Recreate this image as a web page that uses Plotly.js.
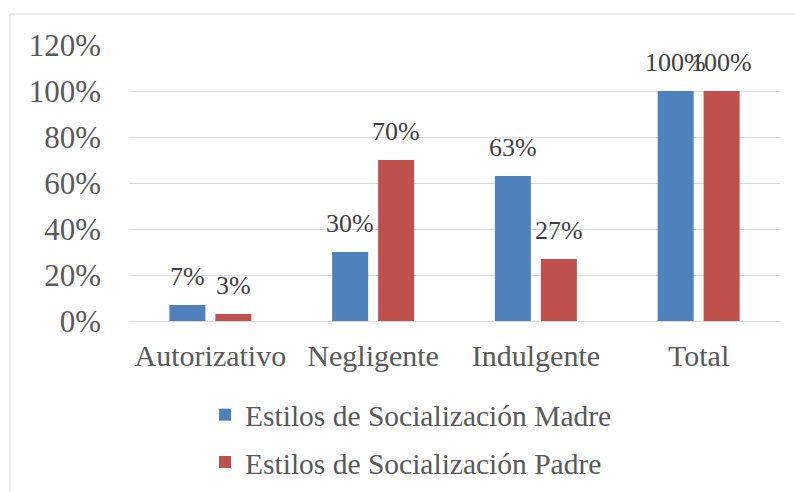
<!DOCTYPE html>
<html>
<head>
<meta charset="utf-8">
<script src="https://cdn.plot.ly/plotly-3.0.1.min.js"></script>
<style>html,body{margin:0;padding:0;background:#fff;}#chart{width:795px;height:492px;}</style>
</head>
<body>
<div id="chart"></div>
<script>
const categories = ["Autorizativo", "Negligente", "Indulgente", "Total"];
const madre = [0.07, 0.30, 0.63, 1.00];
const padre = [0.03, 0.70, 0.27, 1.00];
const seriesNames = ["Estilos de Socialización Madre", "Estilos de Socialización Padre"];
const yTickVals = [0, 0.2, 0.4, 0.6, 0.8, 1.0, 1.2];

const fontFam = 'Liberation Serif, Times New Roman, serif';
const colors = ["#4F81BD", "#C0504D"];

const traces = [madre, padre].map((vals, i) => ({
  type: 'bar',
  name: seriesNames[i],
  x: categories,
  y: vals,
  marker: {color: colors[i]},
  legendgroup: 'g' + i,
  hoverinfo: 'none'
}));

const annotations = [];
[madre, padre].forEach((vals, i) => {
  vals.forEach((v, j) => {
    annotations.push({
      x: categories[j], y: v, xref: 'x', yref: 'y',
      text: Math.round(v * 100) + '%',
      showarrow: false, yanchor: 'bottom', xanchor: 'center',
      xshift: i === 0 ? -23 : 23, yshift: 12,
      font: {family: fontFam, size: 26, color: '#404040'}
    });
  });
});

const L = 129, T = 45, W = 651, H = 276;
const layout = {
  width: 795, height: 492,
  margin: {l: L, r: 795 - L - W, t: T, b: 492 - T - H, autoexpand: false},
  paper_bgcolor: '#fff', plot_bgcolor: '#fff',
  barmode: 'group', bargap: 0.435, bargroupgap: 0.217,
  font: {family: fontFam, color: '#595959', size: 29},
  xaxis: {
    showgrid: false, zeroline: false, showline: false, ticks: '',
    tickfont: {family: fontFam, size: 30, color: '#595959'},
    ticklabelstandoff: 14, automargin: false
  },
  yaxis: {
    range: [0, 1.2], tickvals: yTickVals, tickformat: '.0%',
    showgrid: true, gridcolor: '#d9d9d9', gridwidth: 1,
    zeroline: true, zerolinecolor: '#d9d9d9', zerolinewidth: 1,
    showline: false, ticks: '',
    tickfont: {family: fontFam, size: 31, color: '#595959'},
    ticklabelstandoff: 27, automargin: false
  },
  showlegend: true,
  legend: {
    orientation: 'v', x: (205 - L) / W, xanchor: 'left', y: -(389 - T - H) / H, yanchor: 'top',
    traceorder: 'grouped', tracegroupgap: 6,
    font: {family: fontFam, size: 29.5, color: '#595959'},
    bgcolor: 'rgba(0,0,0,0)'
  },
  annotations: annotations,
  shapes: [{
    type: 'rect', xref: 'paper', yref: 'paper',
    x0: (10 - L) / W, x1: (820 - L) / W,
    y0: -(520 - T - H) / H, y1: (T + H - 14) / H,
    line: {color: '#d9d9d9', width: 1}, fillcolor: 'rgba(0,0,0,0)', layer: 'below'
  }]
};

Plotly.newPlot('chart', traces, layout, {displayModeBar: false, staticPlot: true});
</script>
</body>
</html>
